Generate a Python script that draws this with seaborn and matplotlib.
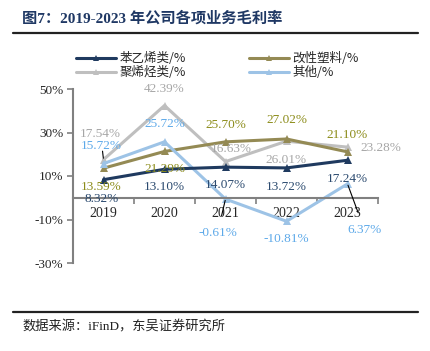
import pandas as pd
import matplotlib
matplotlib.use("Agg")
import matplotlib.pyplot as plt
from matplotlib.lines import Line2D
import seaborn as sns

years = ["2019", "2020", "2021", "2022", "2023"]
series_names = ["苯乙烯类/%", "改性塑料/%", "聚烯烃类/%", "其他/%"]
styrene = [8.32, 13.10, 14.07, 13.72, 17.24]
modified = [13.59, 21.29, 25.70, 27.02, 21.10]
polyolefin = [17.54, 42.39, 16.63, 26.01, 23.28]
other = [15.72, 25.72, -0.61, -10.81, 6.37]

line_colors = ["#1F3A5F", "#948A54", "#BFBFBF", "#9DC3E6"]
text_colors = ["#2B4A6F", "#8C8C1A", "#A6A6A6", "#5DA9E9"]

df = pd.DataFrame({
    "x": list(range(5)) * 4,
    "val": styrene + modified + polyolefin + other,
    "series": sum([[n] * 5 for n in series_names], []),
})

sns.set_style("white")
serif = ["Liberation Serif", "Noto Sans CJK SC"]
plt.rcParams["font.family"] = serif

fig = plt.figure(figsize=(4.31, 3.51), dpi=100)
ax = fig.add_axes([73 / 431, 1 - 263 / 351, 305 / 431, 174 / 351])

# draw order: grey, olive, blue, navy on top
order = ["聚烯烃类/%", "改性塑料/%", "其他/%", "苯乙烯类/%"]
for name in order:
    i = series_names.index(name)
    sns.lineplot(data=df[df["series"] == name], x="x", y="val", ax=ax,
                 color=line_colors[i], lw=2.2, marker="^", markersize=6,
                 markeredgewidth=0, legend=False)

ax.set_xlim(-0.5, 4.5)
ax.set_ylim(-30, 50)
ax.set_yticks([-30, -10, 10, 30, 50])
ax.set_yticklabels([f"{v}%" for v in [-30, -10, 10, 30, 50]], fontsize=9.5)
ax.set_xticks([-0.5, 0.5, 1.5, 2.5, 3.5, 4.5])
ax.set_xticklabels([])
ax.set_xticks(range(5), minor=True)
ax.set_xticklabels(years, minor=True, fontsize=9.5)
ax.tick_params(axis="x", which="major", direction="out", length=4, color="#808080", width=1.2, bottom=True)
ax.tick_params(axis="x", which="minor", length=0, pad=7, bottom=True)
ax.tick_params(axis="y", direction="out", length=4, color="#808080", width=1.2, left=True, pad=3)
ax.set_xlabel("")
ax.set_ylabel("")
for s in ["top", "right"]:
    ax.spines[s].set_visible(False)
ax.spines["bottom"].set_position(("data", 0))
for s in ["bottom", "left"]:
    ax.spines[s].set_color("#808080")
    ax.spines[s].set_linewidth(1.5)

# label offsets (pixels) from each point
offsets = [
    [(-2, -19), (0, -18), (0, -18), (0, -19), (0, -19)],
    [(-2, -19), (0, -18), (0, 17), (0, 19), (0, 17)],
    [(-3, 26), (0, 17), (6, 13), (0, -19), (33, -1)],
    [(-2, 18), (0, 18), (-8, -34), (0, -18), (17, -46)],
]
leaders = {(2, 0), (3, 2), (3, 4)}
all_vals = [styrene, modified, polyolefin, other]
for i, vals in enumerate(all_vals):
    for j, v in enumerate(vals):
        kw = {}
        if (i, j) in leaders:
            kw["arrowprops"] = dict(arrowstyle="-", color="black", lw=0.8,
                                    shrinkA=6, shrinkB=1)
        ax.annotate(f"{v:.2f}%", (j, v), xytext=offsets[i][j], textcoords="offset pixels",
                    ha="center", va="center", fontsize=9.5, color=text_colors[i], **kw)

handles = [Line2D([], [], color=line_colors[i], lw=2.2, marker="^", markersize=4,
                  markeredgewidth=0) for i in range(4)]
leg_order = [0, 2, 1, 3]
fig.legend([handles[k] for k in leg_order], [series_names[k] for k in leg_order],
           ncol=2, loc="upper left", bbox_to_anchor=(70 / 431, 1 - 46 / 351),
           frameon=False, handlelength=3.2, handletextpad=0.3,
           columnspacing=5.0, labelspacing=0.05, borderpad=0,
           prop={"family": ["Noto Sans CJK SC"], "size": 9})

fig.text(22 / 431, 1 - 18 / 351, "图7：2019-2023 年公司各项业务毛利率", fontsize=11,
         fontweight="bold", color="#1F3864", va="center", ha="left")
fig.add_artist(Line2D([13 / 431, 418 / 431], [1 - 33 / 351, 1 - 33 / 351],
                      color="#222222", lw=1.6, transform=fig.transFigure))
fig.add_artist(Line2D([13 / 431, 418 / 431], [1 - 312 / 351, 1 - 312 / 351],
                      color="#222222", lw=1.6, transform=fig.transFigure))
fig.text(22 / 431, 1 - 327 / 351, "数据来源：iFinD，东吴证券研究所", fontsize=9.5,
         color="#222222", va="center", ha="left")

fig.savefig("out.png", dpi=100)
